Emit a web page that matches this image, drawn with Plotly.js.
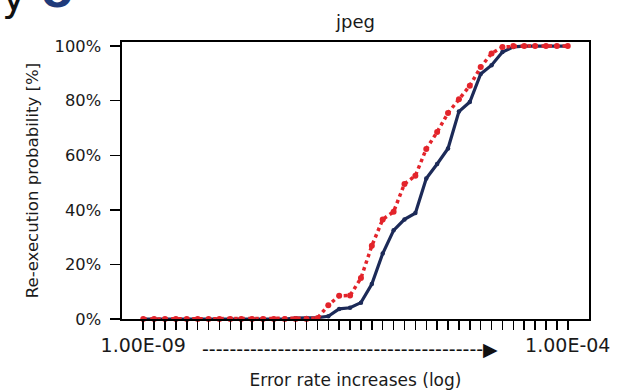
<!DOCTYPE html>
<html><head><meta charset="utf-8">
<script src="https://cdn.plot.ly/plotly-3.0.1.min.js"></script>
<style>html,body{margin:0;padding:0;background:#fff}#chart{width:619px;height:392px}</style>
</head><body><div id="chart"></div>
<script>
// x positions: 40 equally spaced error-rate steps (log scale) from 1.00E-09 to 1.00E-04
const steps = [0,1,2,3,4,5,6,7,8,9,10,11,12,13,14,15,16,17,18,19,20,21,22,23,24,25,26,27,28,29,30,31,32,33,34,35,36,37,38,39];
const edgeLabels = ["1.00E-09", "1.00E-04"];
const yTicks = [0, 20, 40, 60, 80, 100];
const yTickLabels = ["0%", "20%", "40%", "60%", "80%", "100%"];
// series values [%]
const seriesBlue = [0,0,0,0,0,0,0,0,0,0,0,0,0,0,0.3,0.4,0.5,1.0,3.7,4.1,6.0,12.8,24,32.5,36.5,38.8,51.5,56.8,62.5,76,79.5,89.8,93,97.8,99.7,100,100,100,100,100];
const seriesRed  = [0,0,0,0,0,0,0,0,0,0,0,0,0,0,0,0,0.3,5,8.5,8.6,15,26.8,36.5,39.3,49.5,52.5,62.3,68.5,75.5,80.5,85.5,92.3,97.3,99.7,100,100,100,100,100,100];

const tickText = steps.map((s, i) => i === 0 ? edgeLabels[0] : (i === steps.length - 1 ? edgeLabels[1] : ""));
const FONT = "DejaVu Sans";
const traces = [
  {x: steps, y: seriesBlue, type: "scatter", mode: "lines+markers", cliponaxis: false,
   line: {color: "#1c2a58", width: 3.2}, marker: {color: "#1c2a58", size: 4.5}, hoverinfo: "skip"},
  {x: steps, y: seriesRed, type: "scatter", mode: "lines+markers", cliponaxis: false,
   line: {color: "#e3242b", width: 3.5, dash: "dot"}, marker: {color: "#e3242b", size: 6}, hoverinfo: "skip"}
];
const layout = {
  width: 619, height: 392,
  margin: {l: 122, r: 30, t: 42, b: 73},
  paper_bgcolor: "#fff", plot_bgcolor: "#fff",
  showlegend: false,
  font: {family: FONT, color: "#1a1a1a"},
  title: {text: "jpeg", font: {family: FONT, size: 18, color: "#1a1a1a"}, x: 0.5, xref: "paper", y: 0.945, yref: "container", yanchor: "middle"},
  xaxis: {range: [-1.95, 40.95], tickmode: "array", tickvals: steps, ticktext: tickText,
    ticks: "outside", ticklen: 9, tickwidth: 1.5, tickcolor: "#000",
    showline: true, linewidth: 1.6, linecolor: "#000", mirror: true,
    showgrid: false, zeroline: false, tickangle: 0,
    tickfont: {family: FONT, size: 19, color: "#1a1a1a"},
    title: {text: "Error rate increases (log)", font: {family: FONT, size: 17, color: "#1a1a1a"}, standoff: 18}},
  yaxis: {range: [0, 101.5], tickmode: "array", tickvals: yTicks, ticktext: yTickLabels,
    ticks: "outside", ticklen: 10, tickwidth: 1.5, tickcolor: "#000", ticklabelstandoff: 6,
    showline: true, linewidth: 1.6, linecolor: "#000", mirror: true,
    showgrid: false, zeroline: false,
    tickfont: {family: FONT, size: 16.3, color: "#1a1a1a"},
    title: {text: "Re-execution probability [%]", font: {family: FONT, size: 16.6, color: "#1a1a1a"}, standoff: 12}},
  annotations: [
    {text: "-----------------------------------------\u25B6", xref: "paper", yref: "paper", x: 0.488, y: -0.108,
     xanchor: "center", yanchor: "middle", showarrow: false, font: {family: FONT, size: 19, color: "#111"}},
    {text: "y", xref: "paper", yref: "paper", x: -0.232, y: 1.075, xanchor: "center", yanchor: "bottom",
     showarrow: false, font: {family: FONT, size: 40, color: "#111"}},
    {text: "<b>O</b>", xref: "paper", yref: "paper", x: -0.14, y: 1.085, xanchor: "center", yanchor: "bottom",
     showarrow: false, font: {family: FONT, size: 38, color: "#1f3a7a"}}
  ]
};
Plotly.newPlot("chart", traces, layout, {staticPlot: true, displayModeBar: false});
</script>
</body></html>
